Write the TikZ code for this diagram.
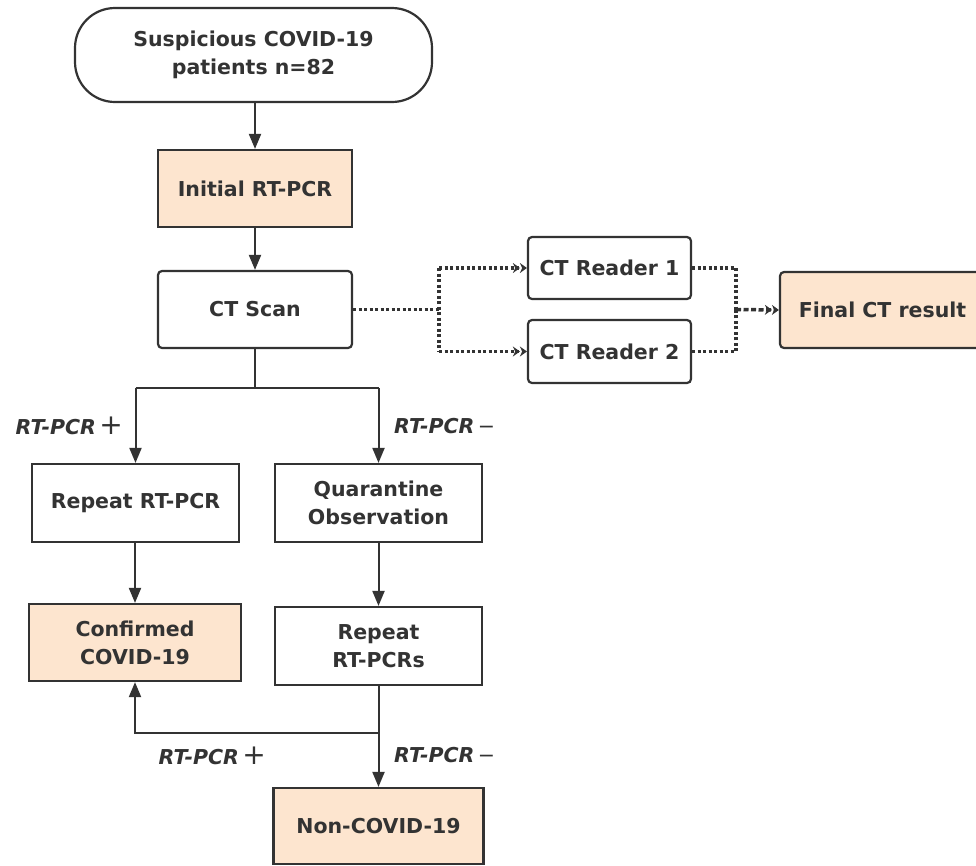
\documentclass[tikz,border=0pt]{standalone}
\usepackage{fontspec}
\setmainfont{DejaVu Sans}
\usetikzlibrary{arrows.meta}
\definecolor{ln}{HTML}{333333}
\definecolor{peach}{HTML}{FDE5CF}
\newcommand\boxfont{\fontsize{20.5}{28}\selectfont\bfseries}
\newcommand\labfont{\fontsize{20.5}{28}\selectfont\bfseries\itshape}
\begin{document}
\begin{tikzpicture}[x=1pt,y=-1pt,
  box/.style={draw=ln,line width=2.2pt,fill=white,inner sep=0pt,align=center,font=\boxfont,text=ln},
  fbox/.style={box,fill=peach},
  rbox/.style={box,rounded corners=4pt},
  lab/.style={inner sep=0pt,font=\labfont,text=ln},
  conn/.style={draw=ln,line width=2pt},
  arr/.style={conn,-{Triangle[length=15pt,width=12pt]}},
  dotl/.style={draw=ln,line width=3.5pt,dash pattern=on 3pt off 2.5pt},
  dotarr/.style={dotl,-{Stealth[length=7pt,width=10pt]Stealth[length=7pt,width=10pt]}}
]
\useasboundingbox (0,0) rectangle (976,865);
% nodes
\node[box,rounded corners=40pt,minimum width=357pt,minimum height=94pt] (top) at (253.5,55) {Suspicious COVID-19\\patients n=82};
\node[fbox,minimum width=194pt,minimum height=77pt] (init) at (255,188.5) {Initial RT-PCR};
\node[rbox,minimum width=194pt,minimum height=77pt] (ct) at (255,309.5) {CT Scan};
\node[rbox,minimum width=163pt,minimum height=62pt] (r1) at (609.5,268) {CT Reader 1};
\node[rbox,minimum width=163pt,minimum height=63pt] (r2) at (609.5,351.5) {CT Reader 2};
\node[fbox,rounded corners=4pt,minimum width=205pt,minimum height=76pt] (fin) at (882.5,310) {Final CT result};
\node[box,minimum width=207pt,minimum height=78pt] (rep) at (135.5,503) {Repeat RT-PCR};
\node[box,minimum width=207pt,minimum height=78pt] (qua) at (378.5,503) {Quarantine\\Observation};
\node[fbox,minimum width=212pt,minimum height=77pt] (conf) at (135,642.5) {Confirmed\\COVID-19};
\node[box,minimum width=207pt,minimum height=78pt] (rp2) at (378.5,646) {Repeat\\RT-PCRs};
\node[fbox,minimum width=210pt,minimum height=76pt] (non) at (378.5,826) {Non-COVID-19};
% labels
\node[lab,anchor=east] (l1) at (123,426) {RT-PCR\,{\normalfont\fontsize{28}{28}\selectfont +}};
\node[lab,anchor=west] (l2) at (394,426) {RT-PCR\,{\normalfont −}};
\node[lab,anchor=east] (l3) at (266,756) {RT-PCR\,{\normalfont\fontsize{28}{28}\selectfont +}};
\node[lab,anchor=west] (l4) at (394,755) {RT-PCR\,{\normalfont −}};
% coordinates
\coordinate (br) at (255,388);
\coordinate (dj) at (439,309.5);
\coordinate (mj) at (736,309.5);
\coordinate (lj) at (378.5,733);
% connectors
\draw[arr] (init.north |- top.south) -- (init.north);
\draw[arr] (init) -- (ct);
\draw[conn] (ct.south) -- (br);
\draw[conn] (rep.north |- br) -- (qua.north |- br);
\draw[arr] (rep.north |- br) -- (rep.north);
\draw[arr] (qua.north |- br) -- (qua.north);
\draw[arr] (rep.south -| conf.north) -- (conf.north);
\draw[arr] (qua) -- (rp2);
\draw[conn] (rp2.south) -- (lj);
\draw[arr] (lj) -| (conf.south);
\draw[arr] (lj) -- (non.north);
% dotted
\draw[dotl] (ct.east) -- (dj);
\draw[dotl] (dj |- r1.west) -- (dj |- r2.west);
\draw[dotarr] (dj |- r1.west) -- (r1.west);
\draw[dotarr] (dj |- r2.west) -- (r2.west);
\draw[dotl] (r1.east) -| (mj);
\draw[dotl] (r2.east) -| (mj);
\draw[dotarr,dash pattern=on 5pt off 2.5pt] (mj) -- (fin.west);
\end{tikzpicture}
\end{document}
